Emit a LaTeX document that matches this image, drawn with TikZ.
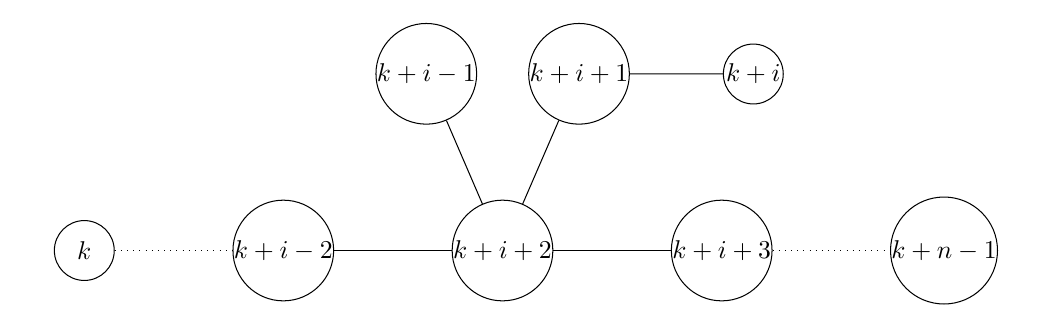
\documentclass[tikz,border=0pt]{standalone}
\begin{document}
\begin{tikzpicture}[x=0.3891pt,y=-0.3891pt,
  vert/.style={circle,draw,inner sep=0pt,minimum size=23.3pt},
  edge/.style={draw},
  dotedge/.style={draw,dotted}]
\useasboundingbox (0,0) rectangle (1052,320);
\node[vert] (k)   at (84.3,250.5) {$k$};
\node[vert] (a)   at (283.3,250.5) {$k+i-2$};
\node[vert] (b)   at (502.5,250.5) {$k+i+2$};
\node[vert] (c)   at (721.7,250.5) {$k+i+3$};
\node[vert] (n)   at (944,250.5) {$k+n-1$};
\node[vert] (d)   at (426.3,73.8) {$k+i-1$};
\node[vert] (e)   at (579,73.8) {$k+i+1$};
\node[vert] (f)   at (753.3,74) {$k+i$};
\path[dotedge] (k) -- (a);
\path[edge] (a) -- (b);
\path[edge] (b) -- (c);
\path[dotedge] (c) -- (n);
\path[edge] (b) -- (d);
\path[edge] (b) -- (e);
\path[edge] (e) -- (f);
\end{tikzpicture}
\end{document}
